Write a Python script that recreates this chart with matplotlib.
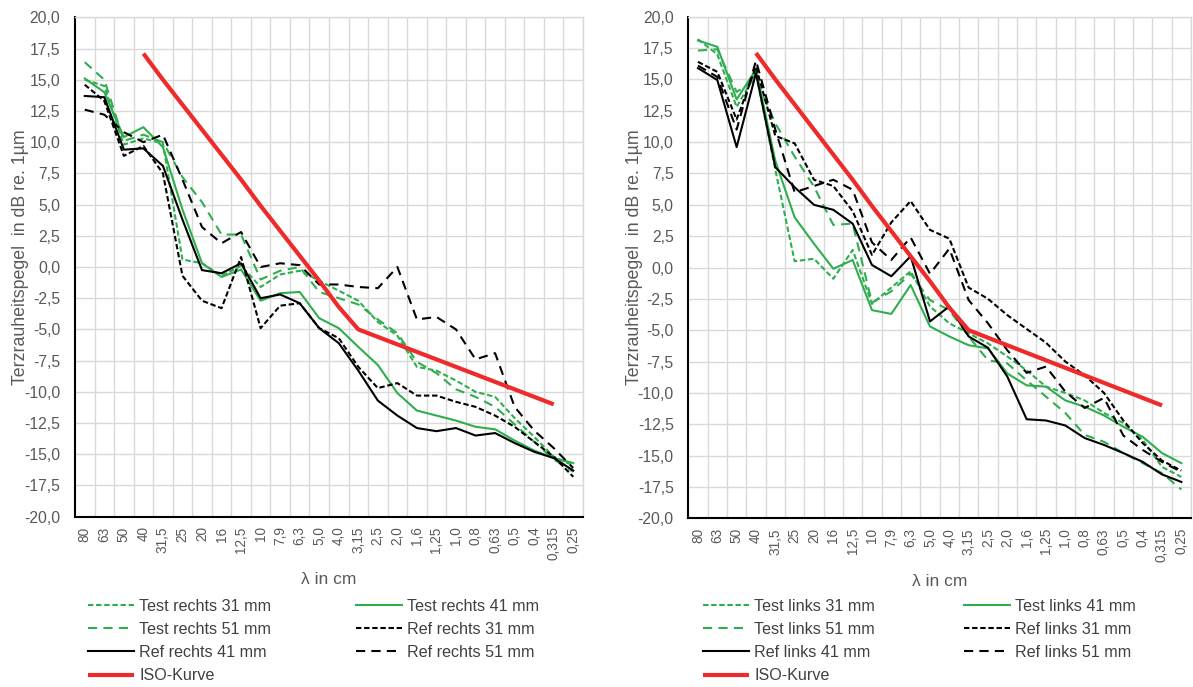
import matplotlib
matplotlib.use('Agg')
import matplotlib.pyplot as plt
import numpy as np

plt.rcParams['font.family'] = ['Liberation Sans', 'DejaVu Sans']

categories = ['80', '63', '50', '40', '31,5', '25', '20', '16', '12,5', '10', '7,9', '6,3',
              '5,0', '4,0', '3,15', '2,5', '2,0', '1,6', '1,25', '1,0', '0,8', '0,63',
              '0,5', '0,4', '0,315', '0,25']

nan = np.nan
iso_curve = [nan, nan, nan, 17.1, 15.0, 13.0, 11.0, 9.0, 7.0, 4.9, 2.9, 0.9, -1.1, -3.2,
             -5.0, -5.6, -6.2, -6.8, -7.4, -8.0, -8.6, -9.2, -9.8, -10.4, -11.0, nan]

# left chart (rechts)
test_r31 = [15.0, 14.5, 9.8, 10.3, 9.9, 0.6, 0.3, -0.7, 0.1, -1.6, -0.6, -0.3, -1.1, -1.9,
            -2.7, -4.4, -5.5, -8.0, -8.3, -9.1, -10.0, -10.4, -12.1, -13.6, -15.2, -15.9]
test_r41 = [15.1, 14.0, 10.4, 11.2, 9.6, 4.6, 0.3, -0.8, -0.2, -2.7, -2.1, -2.0, -4.1, -4.9,
            -6.4, -7.85, -10.1, -11.5, -11.9, -12.3, -12.8, -13.0, -13.9, -14.7, -15.3, -15.7]
test_r51 = [16.4, 15.0, 10.1, 10.6, 10.0, 7.2, 5.2, 2.6, 2.6, -1.0, -0.3, 0.0, -2.0, -2.5,
            -3.0, -4.2, -5.3, -7.6, -8.5, -9.8, -10.4, -11.2, -12.6, -14.0, -15.4, -16.4]
ref_r31 = [14.6, 13.3, 8.9, 9.7, 7.5, -0.7, -2.7, -3.3, 0.8, -4.9, -3.1, -2.9, -4.9, -5.7,
           -8.0, -9.7, -9.3, -10.3, -10.3, -10.8, -11.2, -11.9, -12.8, -14.0, -15.2, -16.8]
ref_r41 = [13.7, 13.6, 9.4, 9.5, 8.1, 3.8, -0.25, -0.5, 0.3, -2.5, -2.2, -2.9, -4.9, -6.1,
           -8.3, -10.7, -11.9, -12.9, -13.15, -12.9, -13.5, -13.3, -14.1, -14.8, -15.3, -16.3]
ref_r51 = [12.6, 12.2, 10.8, 10.0, 10.6, 7.0, 3.2, 1.9, 2.8, 0.0, 0.3, 0.15, -1.4, -1.4,
           -1.6, -1.7, 0.0, -4.2, -4.0, -5.0, -7.4, -6.9, -11.2, -13.1, -14.5, -16.1]

# right chart (links)
test_l31 = [18.2, 17.0, 12.8, 15.5, 7.8, 0.5, 0.7, -0.9, 1.4, -2.9, -1.6, -0.3, -3.1, -4.45,
            -5.25, -6.05, -7.1, -8.2, -9.5, -10.0, -10.6, -11.6, -12.4, -13.75, -15.9, -16.7]
test_l41 = [18.1, 17.6, 13.4, 15.8, 8.5, 4.0, 1.9, -0.1, 0.6, -3.4, -3.7, -1.4, -4.7, -5.5,
            -6.2, -6.45, -8.45, -9.4, -9.5, -10.6, -11.1, -11.8, -12.7, -13.5, -14.8, -15.6]
test_l51 = [17.3, 17.4, 14.0, 15.0, 11.5, 8.85, 6.45, 3.4, 3.5, -2.8, -1.9, -0.5, -2.6, -3.4,
            -5.5, -7.4, -7.65, -9.0, -10.3, -11.6, -13.35, -13.9, -14.8, -15.6, -16.4, -17.7]
ref_l31 = [16.4, 15.6, 11.8, 16.0, 10.5, 9.9, 7.0, 6.5, 4.5, 1.0, 3.6, 5.3, 3.0, 2.3,
           -1.6, -2.5, -3.8, -4.9, -6.0, -7.5, -8.6, -10.0, -12.2, -14.0, -15.4, -16.2]
ref_l41 = [15.9, 14.95, 9.6, 15.5, 8.0, 6.4, 5.0, 4.6, 3.5, 0.2, -0.7, 0.9, -4.3, -3.1,
           -5.5, -6.4, -8.7, -12.1, -12.2, -12.6, -13.6, -14.15, -14.8, -15.5, -16.5, -17.1]
ref_l51 = [16.1, 15.2, 11.0, 16.5, 11.0, 6.0, 6.5, 7.0, 6.2, 2.0, 0.6, 2.4, -0.5, 1.5,
           -2.6, -4.45, -6.6, -8.4, -7.9, -9.9, -11.2, -10.4, -13.4, -14.55, -15.5, -16.3]

GREEN = '#2FAE4E'
BLACK = '#000000'
RED = '#EE2A2A'
GRID = '#D9D9D9'
TXT = '#595959'
SHORT = (0, (2.6, 1.3))
LONG = (0, (4.4, 3.0))

fig = plt.figure(figsize=(11.93, 6.87), dpi=100)
W, H = 1193, 687


def make_axes(x0, x1, y0, y1):
    return fig.add_axes([x0 / W, 1 - y1 / H, (x1 - x0) / W, (y1 - y0) / H])


def draw(ax, series, side):
    x = np.arange(len(categories))
    styles = [
        (f'Test {side} 31 mm', GREEN, SHORT),
        (f'Test {side} 41 mm', GREEN, '-'),
        (f'Test {side} 51 mm', GREEN, LONG),
        (f'Ref {side} 31 mm', BLACK, SHORT),
        (f'Ref {side} 41 mm', BLACK, '-'),
        (f'Ref {side} 51 mm', BLACK, LONG),
    ]
    handles = []
    for (lab, col, ls), vals in zip(styles, series):
        h, = ax.plot(x, vals, color=col, linestyle=ls, linewidth=1.5, label=lab, zorder=3)
        handles.append(h)
    h, = ax.plot(x, iso_curve, color=RED, linewidth=3.0, label='ISO-Kurve', zorder=4,
                 solid_capstyle='butt')
    handles.append(h)

    ax.set_xlim(-0.5, len(categories) - 0.5)
    ax.set_ylim(-20, 20)
    yt = np.arange(-20, 20.01, 2.5)
    ax.set_yticks(yt)
    ax.set_yticklabels([f'{v:.1f}'.replace('.', ',') for v in yt], color=TXT, fontsize=11.3)
    ax.set_xticks(x)
    ax.set_xticklabels(categories, rotation=90, color=TXT, fontsize=9.8)
    ax.tick_params(axis='y', length=0, pad=10.5)
    ax.tick_params(axis='x', length=0, pad=7)
    ax.set_xticks(np.arange(0.5, len(categories) - 0.4, 1.0), minor=True)
    ax.tick_params(axis='x', which='minor', length=0)
    ax.grid(True, axis='y', which='major', color=GRID, linewidth=1.0, zorder=0)
    ax.grid(True, axis='x', which='minor', color=GRID, linewidth=1.0, zorder=0)
    ax.grid(False, axis='x', which='major')
    for s in ['top', 'right']:
        ax.spines[s].set_color(GRID)
        ax.spines[s].set_linewidth(1.0)
    for s in ['left', 'bottom']:
        ax.spines[s].set_color('#000000')
        ax.spines[s].set_linewidth(1.5)
    ax.set_axisbelow(True)
    ax.set_xlabel('λ in cm', color=TXT, fontsize=12.5)
    ax.xaxis.set_label_coords(0.5, -0.111)
    ax.set_ylabel('Terzrauheitspegel  in dB re. 1µm', color=TXT, fontsize=12.8)
    ax.yaxis.set_label_coords(-0.108, 0.52)
    ax.yaxis.label.set_va('center')
    return handles


ax1 = make_axes(75, 583, 17.3, 516.7)
h1 = draw(ax1, [test_r31, test_r41, test_r51, ref_r31, ref_r41, ref_r51], 'rechts')
ax2 = make_axes(688.3, 1191, 16.7, 518.3)
h2 = draw(ax2, [test_l31, test_l41, test_l51, ref_l31, ref_l41, ref_l51], 'links')


def add_legends(handles, xcol1, xcol2, ytop):
    col1 = [handles[0], handles[2], handles[4], handles[6]]
    col2 = [handles[1], handles[3], handles[5]]
    for col, xc in ((col1, xcol1), (col2, xcol2)):
        leg = fig.legend(handles=col, loc='upper left',
                         bbox_to_anchor=(xc / W, 1 - ytop / H), frameon=False,
                         fontsize=11.6, handlelength=2.85, handletextpad=0.32,
                         labelspacing=0.5, borderaxespad=0, borderpad=0)
        for t in leg.get_texts():
            t.set_color('#404040')


add_legends(h1, 88, 356, 599)
add_legends(h2, 703, 964, 599)

fig.savefig('out.png', dpi=100)
